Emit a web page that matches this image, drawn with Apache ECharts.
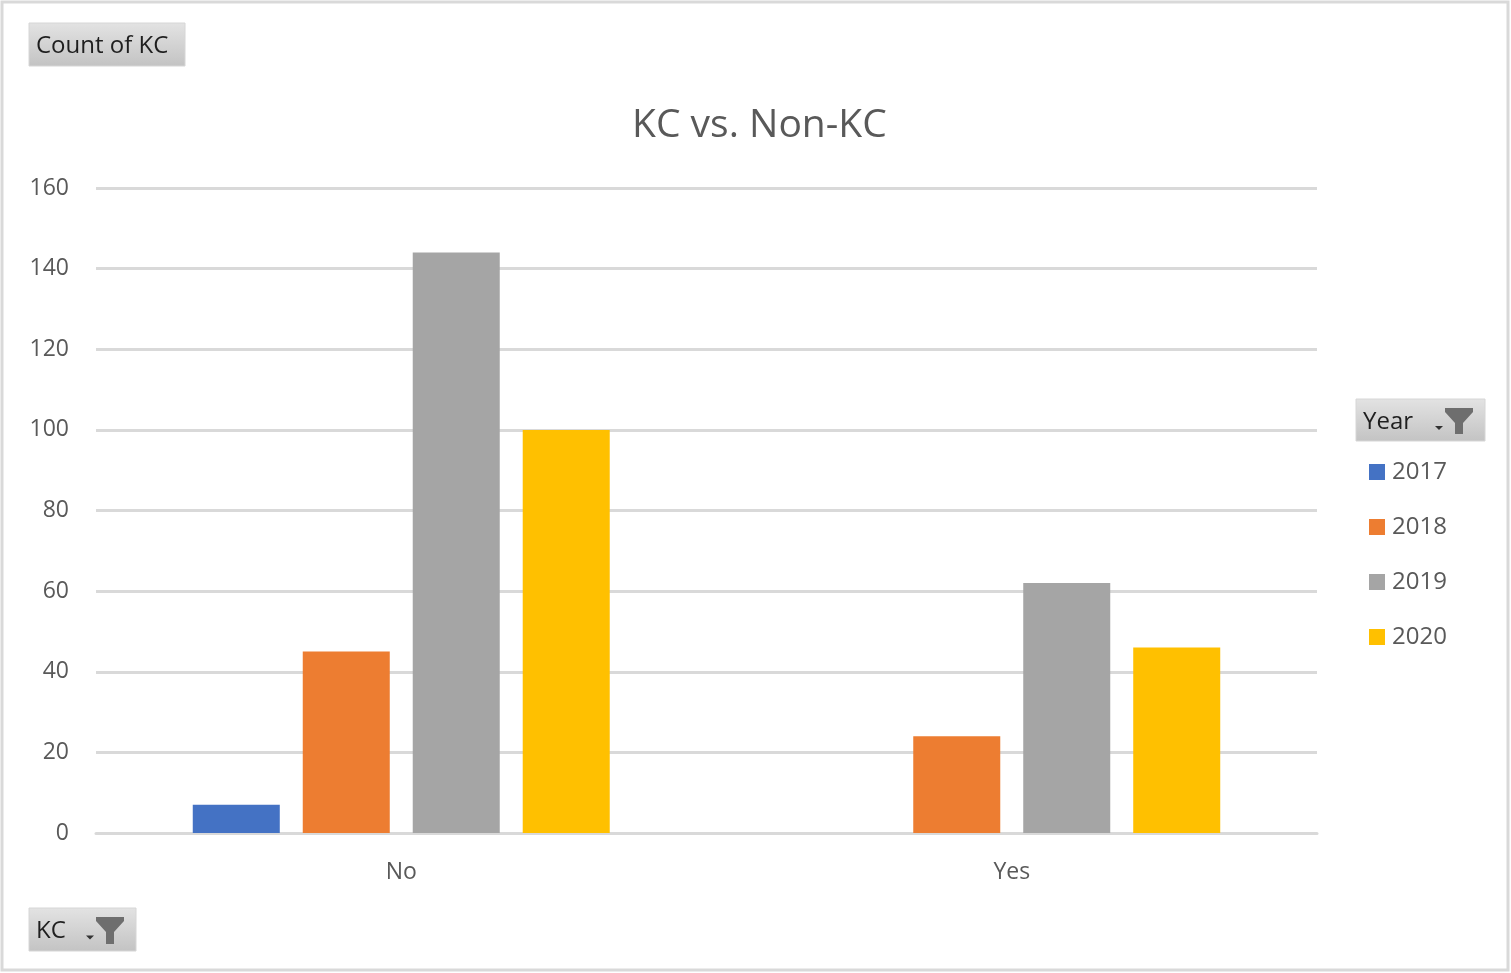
<!DOCTYPE html>
<html>
<head>
<meta charset="utf-8">
<title>KC vs. Non-KC</title>
<script src="https://cdn.jsdelivr.net/npm/echarts@6/dist/echarts.min.js"></script>
<style>
  html, body { margin: 0; padding: 0; background: #fff; }
  #chart { width: 1511px; height: 973px; }
</style>
</head>
<body>
<div id="chart"></div>
<script>
// data
var categories = ['No', 'Yes'];
var years = ['2017', '2018', '2019', '2020'];
var counts2017 = [7, null];
var counts2018 = [45, 24];
var counts2019 = [144, 62];
var counts2020 = [100, 46];
var yearColors = ['#4472c4', '#ed7d31', '#a5a5a5', '#ffc000'];

var allCounts = [counts2017, counts2018, counts2019, counts2020];
var font = '"Open Sans", "Noto Sans", sans-serif';

// gray pivot field button, optionally with filter funnel
function fieldButton(x, y, w, h, label, withFilter) {
    var kids = [{
        type: 'rect',
        shape: {x: 0, y: 0, width: w, height: h},
        style: {
            fill: new echarts.graphic.LinearGradient(0, 0, 0, 1, [
                {offset: 0, color: '#e3e3e3'},
                {offset: 1, color: '#c3c3c3'}
            ]),
            stroke: '#d6d6d6',
            lineWidth: 1
        }
    }, {
        type: 'text',
        x: 7, y: h / 2 + 2,
        style: {text: label, fill: '#1f1f1f', font: '24px ' + font, verticalAlign: 'middle'}
    }];
    if (withFilter) {
        var fx = w - 40;
        kids.push({
            type: 'polygon',
            shape: {points: [[fx - 10, h / 2 + 6], [fx - 2, h / 2 + 6], [fx - 6, h / 2 + 10]]},
            style: {fill: '#333'}
        });
        kids.push({
            type: 'polygon',
            shape: {points: [[fx, 9], [fx + 28, 9], [fx + 28, 13], [fx + 18, 24], [fx + 18, h - 7],
                             [fx + 10, h - 7], [fx + 10, 24], [fx, 13]]},
            style: {fill: '#6e6e6e'}
        });
    }
    return {type: 'group', x: x, y: y, children: kids};
}

var chart = echarts.init(document.getElementById('chart'));

var series = years.map(function (yr, i) {
    return {
        name: yr,
        type: 'bar',
        data: allCounts[i],
        barGap: '26.4%',
        barCategoryGap: '31.7%',
        itemStyle: {color: yearColors[i]}
    };
});

var option = {
    backgroundColor: '#fff',
    animation: false,
    color: yearColors,
    title: {
        text: 'KC vs. Non-KC',
        left: 627,
        top: 101,
        textStyle: {color: '#595959', fontFamily: font, fontSize: 39, fontWeight: 'normal'}
    },
    legend: {
        orient: 'vertical',
        left: 1364,
        top: 455,
        itemWidth: 16,
        itemHeight: 16,
        itemGap: 31,
        icon: 'rect',
        data: years,
        textStyle: {color: '#595959', fontFamily: font, fontSize: 24, padding: [0, 0, 0, 2]}
    },
    grid: {left: 96, right: 194, top: 188, bottom: 140, containLabel: false},
    xAxis: {
        type: 'category',
        data: categories,
        axisLine: {lineStyle: {color: '#d9d9d9', width: 3}},
        axisTick: {show: false},
        axisLabel: {color: '#595959', fontFamily: font, fontSize: 23, margin: 28}
    },
    yAxis: {
        type: 'value',
        min: 0,
        max: 160,
        interval: 20,
        axisLine: {show: false},
        axisTick: {show: false},
        splitLine: {lineStyle: {color: '#d9d9d9', width: 3}},
        axisLabel: {color: '#595959', fontFamily: font, fontSize: 23, margin: 27}
    },
    series: series,
    graphic: [
        {
            type: 'rect',
            shape: {x: 2, y: 2, width: 1506, height: 968},
            style: {fill: 'none', stroke: '#d9d9d9', lineWidth: 3},
            silent: true
        },
        fieldButton(29, 23, 156, 43, 'Count of KC', false),
        fieldButton(1356, 399, 129, 42, 'Year', true),
        fieldButton(29, 908, 107, 43, 'KC', true)
    ]
};

chart.setOption(option);
</script>
</body>
</html>
